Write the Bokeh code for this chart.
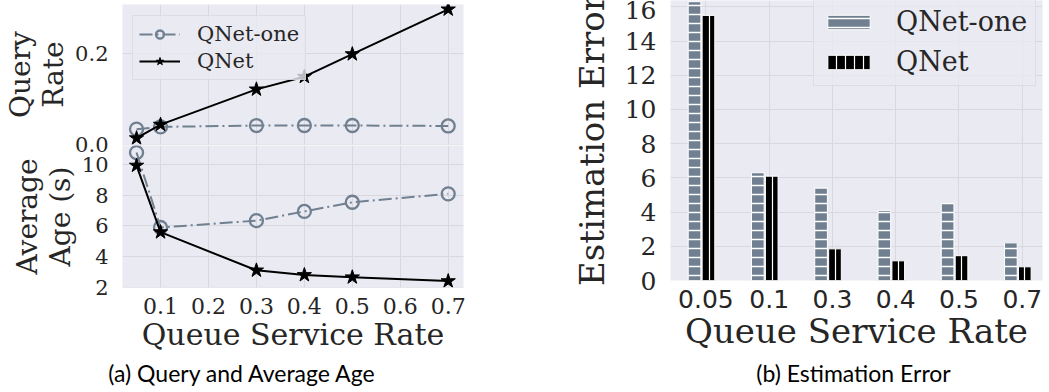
from bokeh.plotting import figure
from bokeh.models import (Range1d, FixedTicker, Legend, LegendItem, ColumnDataSource,
                          PrintfTickFormatter)
from bokeh.layouts import row, column
from bokeh.transform import dodge
from bokeh.embed import file_html
from bokeh.resources import INLINE
from bokeh.core.properties import value

# ---------------- data ----------------
service_rate = [0.05, 0.1, 0.3, 0.4, 0.5, 0.7]
query_qnet_one = [0.033, 0.038, 0.041, 0.041, 0.041, 0.040]
query_qnet = [0.013, 0.043, 0.121, 0.149, 0.199, 0.298]
age_qnet_one = [10.8, 5.9, 6.35, 6.95, 7.55, 8.1]
age_qnet = [9.95, 5.6, 3.1, 2.8, 2.65, 2.4]

rate_ticks = [0.1, 0.2, 0.3, 0.4, 0.5, 0.6, 0.7]
query_ticks = [0.0, 0.2]
age_ticks = [2, 4, 6, 8, 10]

categories = ["0.05", "0.1", "0.3", "0.4", "0.5", "0.7"]
err_qnet_one = [16.3, 6.3, 5.4, 4.1, 4.5, 2.2]
err_qnet = [15.5, 6.1, 1.85, 1.15, 1.45, 0.8]
err_ticks = [0, 2, 4, 6, 8, 10, 12, 14, 16]

captions = ["(a) Query and Average Age", "(b) Estimation Error"]

SLATE = "#708090"
BG = "#EAEAF2"
GRID = "#d8d8de"
TXT = "#262626"


def style(p):
    p.background_fill_color = BG
    p.border_fill_color = "white"
    p.outline_line_color = None
    p.grid.grid_line_color = GRID
    p.grid.grid_line_width = 1
    p.axis.axis_line_color = None
    p.axis.major_tick_line_color = None
    p.axis.minor_tick_line_color = None
    p.axis.major_label_text_color = TXT
    p.axis.axis_label_text_color = TXT
    p.axis.axis_label_text_font_style = "normal"
    p.axis.major_label_text_font = "DejaVu Serif"
    p.axis.axis_label_text_font = "DejaVu Serif"


src_left = ColumnDataSource(dict(x=service_rate, q1=query_qnet_one, q=query_qnet,
                                 a1=age_qnet_one, a=age_qnet))

# ---------------- top-left: query rate ----------------
p1 = figure(frame_width=341, frame_height=140, x_range=Range1d(0.0207, 0.7319),
            y_range=Range1d(-0.001, 0.3087),
            min_border_left=122, min_border_right=97, min_border_top=4, min_border_bottom=13,
            output_backend="svg", toolbar_location=None)
style(p1)
p1.xaxis.visible = False
p1.xaxis.ticker = FixedTicker(ticks=rate_ticks)
p1.xgrid.ticker = FixedTicker(ticks=rate_ticks)
p1.yaxis.ticker = FixedTicker(ticks=query_ticks)
p1.yaxis.formatter = PrintfTickFormatter(format="%.1f")
p1.yaxis.major_label_text_font_size = "21px"
p1.yaxis.major_label_standoff = 8
p1.yaxis.axis_label = "Query\nRate"
p1.yaxis.axis_label_text_font_size = "28px"
p1.yaxis.axis_label_text_line_height = 1.0
p1.yaxis.axis_label_standoff = 2

l1a = p1.line("x", "q1", source=src_left, line_color=SLATE, line_width=2, line_dash="13 4 2 4")
s1a = p1.scatter("x", "q1", source=src_left, marker="circle", size=13, fill_alpha=0,
                 line_color=SLATE, line_width=2.3)
l1b = p1.line("x", "q", source=src_left, line_color="black", line_width=2)
s1b = p1.scatter("x", "q", source=src_left, marker="star", size=15, fill_color="black",
                 line_color="black")
leg1 = Legend(items=[LegendItem(label="QNet-one", renderers=[l1a, s1a]),
                     LegendItem(label="QNet", renderers=[l1b, s1b])],
              location=(10, 64), label_text_font="DejaVu Serif", label_text_font_size="21px",
              label_text_color=TXT, glyph_width=41, glyph_height=20, label_standoff=17,
              spacing=3, padding=6, margin=0, background_fill_color=BG,
              background_fill_alpha=0.8, border_line_color="#cfcfd6", border_line_width=1)
p1.add_layout(leg1)

# ---------------- bottom-left: average age ----------------
p2 = figure(frame_width=341, frame_height=142, x_range=Range1d(0.0207, 0.7319),
            y_range=Range1d(1.98, 11.26),
            min_border_left=122, min_border_right=97, min_border_top=1, min_border_bottom=105,
            output_backend="svg", toolbar_location=None, margin=(-13, 0, 0, 0))
style(p2)
p2.border_fill_alpha = 0
p2.xaxis.ticker = FixedTicker(ticks=rate_ticks)
p2.yaxis.ticker = FixedTicker(ticks=age_ticks)
p2.xaxis.major_label_text_font_size = "22px"
p2.xaxis.major_label_standoff = 4
p2.xaxis.axis_label = "Queue Service Rate"
p2.xaxis.axis_label_text_font_size = "30px"
p2.xaxis.axis_label_standoff = 0
p2.yaxis.major_label_text_font_size = "21px"
p2.yaxis.major_label_standoff = 8
p2.yaxis.axis_label = "Average\nAge (s)"
p2.yaxis.axis_label_text_font_size = "28px"
p2.yaxis.axis_label_text_line_height = 1.0
p2.yaxis.axis_label_standoff = 2

p2.line("x", "a1", source=src_left, line_color=SLATE, line_width=2, line_dash="13 4 2 4")
p2.scatter("x", "a1", source=src_left, marker="circle", size=13, fill_alpha=0,
           line_color=SLATE, line_width=2.3)
p2.line("x", "a", source=src_left, line_color="black", line_width=2)
p2.scatter("x", "a", source=src_left, marker="star", size=15, fill_color="black",
           line_color="black")

# ---------------- right: estimation error ----------------
src_bar = ColumnDataSource(dict(x=list(range(len(categories))), one=err_qnet_one, qnet=err_qnet))
p3 = figure(frame_width=372, frame_height=280, x_range=Range1d(-0.56, 5.32),
            y_range=Range1d(0, 16.37),
            min_border_left=110, min_border_right=7, min_border_top=0, min_border_bottom=112,
            output_backend="svg", toolbar_location=None)
style(p3)
p3.xaxis.ticker = FixedTicker(ticks=list(range(len(categories))))
p3.xaxis.major_label_overrides = {i: c for i, c in enumerate(categories)}
p3.xaxis.major_label_text_font = "DejaVu Sans"
p3.xaxis.major_label_text_font_size = "25px"
p3.xaxis.major_label_standoff = 3
p3.xaxis.axis_label = "Queue Service Rate"
p3.xaxis.axis_label_text_font_size = "34px"
p3.xaxis.axis_label_standoff = 0
p3.yaxis.ticker = FixedTicker(ticks=err_ticks)
p3.yaxis.major_label_text_font_size = "25px"
p3.yaxis.major_label_standoff = 8
p3.yaxis.axis_label = "Estimation Error"
p3.yaxis.axis_label_text_font_size = "34px"
p3.yaxis.axis_label_standoff = 10

b1 = p3.vbar(x=dodge("x", -0.18), top="one", width=0.2, source=src_bar, fill_color=SLATE,
             line_color="white", line_width=1, hatch_pattern="horizontal_line",
             hatch_color="white", hatch_scale=9, hatch_weight=1.5)
b2 = p3.vbar(x=dodge("x", 0.04), top="qnet", width=0.2, source=src_bar, fill_color="black",
             line_color="white", line_width=1, hatch_pattern="vertical_line",
             hatch_color="white", hatch_scale=9, hatch_weight=1.2)
leg3 = Legend(items=[LegendItem(label="QNet-one", renderers=[b1]),
                     LegendItem(label="QNet", renderers=[b2])],
              location=(143, 194), label_text_font="DejaVu Serif", label_text_font_size="27px",
              label_text_color=TXT, glyph_width=53, glyph_height=18, label_standoff=21,
              spacing=9, padding=8, margin=0, background_fill_color=BG,
              background_fill_alpha=0.8, border_line_color="#cfcfd6", border_line_width=1)
p3.add_layout(leg3)

# ---------------- captions strip ----------------
cap = figure(width=1049, height=60, x_range=Range1d(0, 1049), y_range=Range1d(392, 332),
             min_border=0, output_backend="svg", toolbar_location=None,
             margin=(-60, 0, 0, 0))
cap.axis.visible = False
cap.grid.visible = False
cap.outline_line_color = None
cap.background_fill_alpha = 0
cap.border_fill_alpha = 0
cap.text(x=[242, 853], y=[372, 372], text=captions, text_align="center",
         text_baseline="middle", text_font=value("Lato"), text_font_size="23px",
         text_color="black")

layout = column(row(column(p1, p2, spacing=0), p3, spacing=0), cap, spacing=0)

with open("out.html", "w") as f:
    f.write(file_html(layout, INLINE))
